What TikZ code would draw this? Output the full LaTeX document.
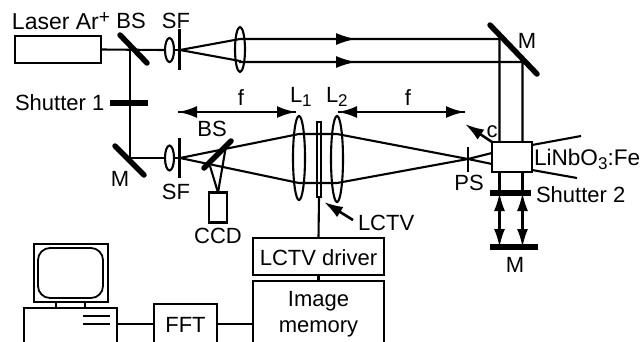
\documentclass[tikz,border=0pt]{standalone}
\usepackage{fontspec}
\setmainfont{Liberation Sans}
\usetikzlibrary{arrows.meta,shapes.geometric}
\newcommand{\lowtxt}[1]{\raisebox{-4pt}{\fontsize{17}{17}\selectfont #1}}
\newcommand{\hightxt}[1]{\raisebox{6pt}{\fontsize{19}{19}\selectfont #1}}
\tikzset{
  ray/.style={line width=2.1pt},
  bar/.style={line width=5.5pt,line cap=round},
  boxnode/.style={draw,line width=2.1pt,inner sep=0pt,outer sep=0pt},
  lens/.style={draw,ellipse,line width=2.1pt,inner sep=0pt,outer sep=0pt},
  lbl/.style={inner sep=0pt,outer sep=0pt,anchor=base,font=\fontsize{22}{26}\selectfont},
  bighead/.style={-{Latex[length=19pt,width=12pt]},line width=2.6pt},
  beamhead/.style={-{Latex[length=20pt,width=12pt]},line width=2.1pt},
  bothhead/.style={{Latex[length=18pt,width=11pt]}-{Latex[length=18pt,width=11pt]},line width=2.1pt}
}
\begin{document}
\begin{tikzpicture}[x=1pt,y=-1pt]
\clip (0,0) rectangle (642,341);
\fill[white] (0,0) rectangle (642,341);

\node[boxnode,minimum width=86pt,minimum height=27pt] (laser) at (58,49.5) {};
\node[lens,minimum width=9pt,minimum height=24pt] (lensA) at (169.5,50) {};
\node[lens,minimum width=10pt,minimum height=45pt] (lensB) at (240,49.5) {};
\node[lens,minimum width=9pt,minimum height=25pt] (lensC) at (169.5,158) {};
\node[lens,minimum width=12pt,minimum height=84pt] (lensL1) at (299,158) {};
\node[lens,minimum width=12pt,minimum height=86pt] (lensL2) at (337,159) {};
\node[boxnode,minimum width=4pt,minimum height=75pt] (lctv) at (319,159.5) {};
\node[boxnode,minimum width=40pt,minimum height=30pt] (crystal) at (512,157) {};
\node[boxnode,minimum width=18pt,minimum height=30pt] (ccd) at (218,207.5) {};
\node[boxnode,minimum width=131pt,minimum height=37pt] (driver) at (318.5,256.5) {};
\node[boxnode,minimum width=131pt,minimum height=66pt,align=center] (memory) at (318.5,314) {};
\node[boxnode,minimum width=63pt,minimum height=40pt] (fft) at (185.5,324) {};
\node[boxnode,minimum width=74pt,minimum height=58pt] (monitor) at (71,273) {};
\node[draw,rounded corners=12pt,line width=1.8pt,inner sep=0pt,minimum width=65pt,minimum height=50pt] (screen) at (70.5,273) {};
\node[boxnode,minimum width=29pt,minimum height=6pt] (stand) at (70.5,305) {};
\node[boxnode,minimum width=93pt,minimum height=40pt] (base) at (70.5,328) {};

\coordinate (bsA) at (130,50);
\coordinate (mirC) at (130,158);
\coordinate (slitA) at (180,50);
\coordinate (slitC) at (180,158);
\coordinate (lensBup) at (240,39);
\coordinate (lensBdn) at (240,61);
\coordinate (headupA) at (336,39);
\coordinate (headupB) at (356,39);
\coordinate (headdnA) at (336,62);
\coordinate (headdnB) at (356,62);
\coordinate (mirUp) at (499.5,39);
\coordinate (mirDn) at (522.5,62);
\coordinate (L1up) at (299,134);
\coordinate (L1dn) at (299,183);
\coordinate (L2up) at (337,134);
\coordinate (L2dn) at (337,183);
\coordinate (ps) at (468,159);
\coordinate (ccdUp) at (226,146);
\coordinate (ccdDn) at (210,166);
\coordinate (shutB) at (499.5,193);
\coordinate (shutC) at (522.5,193);
\coordinate (mirB) at (499.5,247);
\coordinate (mirE) at (522.5,247);

\draw[ray] (laser.east) -- (lensA.west);
\draw[ray] (lensA.east) -- (slitA);
\draw[ray] (bsA) -- (mirC);
\draw[ray] (mirC) -- (lensC.west);
\draw[ray] (lensC.east) -- (slitC);
\draw[ray] (slitA) -- (lensBup) -- (mirUp) -- (mirUp |- crystal.north);
\draw[ray] (slitA) -- (lensBdn) -- (240,62) -- (mirDn) -- (mirDn |- crystal.north);
\draw[beamhead] (headupA) -- (headupB);
\draw[beamhead] (headdnA) -- (headdnB);
\draw[ray] (slitC) -- (L1up) -- (L2up) -- (ps) -- (492,164);
\draw[ray] (slitC) -- (L1dn) -- (L2dn) -- (ps) -- (492,153);
\draw[ray] (ccdUp) -- (ccd.north);
\draw[ray] (ccdDn) -- (ccd.north);
\draw[ray] (532,145) -- (581,136);
\draw[ray] (532,170) -- (577,178);
\draw[ray] (lctv.south) -- (driver.north);
\draw[ray] (driver.south) -- (memory.north);
\draw[ray] (fft.east) -- (fft.east -| memory.west);
\draw[ray] (fft.west) -- (fft.west -| base.east);
\draw[ray] (mirUp |- crystal.south) -- (shutB);
\draw[ray] (mirDn |- crystal.south) -- (shutC);
\draw[bothhead] (shutB) -- (mirB);
\draw[bothhead] (shutC) -- (mirE);

\draw[bar] (120,35) -- (147,63);
\draw[line width=5.5pt] (110,103) -- (148,103);
\draw[bar] (115,146) -- (144,175);
\draw[bar] (231,141) -- (204,168);
\draw[bar] (490,25) -- (537,74);
\draw[line width=5.5pt] (490,193) -- (531,193);
\draw[line width=5.5pt] (490,247) -- (538,247);
\draw[ray] (179.5,29) -- (179.5,70);
\draw[ray] (179.5,138) -- (179.5,178);
\draw[line width=2.6pt] (468,147) -- (468,172);
\draw[ray] (83,316) -- (110,316);
\draw[ray] (83,324) -- (110,324);

\draw[bighead] (178,112) -- (296,112);
\draw[bighead] (296,112) -- (178,112);
\draw[bighead] (338,112) -- (465,112);
\draw[bighead] (465,112) -- (338,112);
\draw[bighead] (crystal.north west) -- (465,124);
\draw[bighead] (353,220) -- (324,202);

\node[lbl,anchor=base west,font=\fontsize{23}{26}\selectfont] (laserlabel) at (12,29) {Laser Ar\hightxt{+}};
\node[lbl] (bslabelA) at (131,28) {BS};
\node[lbl] (sflabelA) at (176,28) {SF};
\node[lbl,anchor=base west] (shutterA) at (15,110) {Shutter 1};
\node[lbl] (flabelA) at (241,105) {f};
\node[lbl] (flabelB) at (408,105) {f};
\node[lbl,anchor=base west] (L1label) at (290,102) {L\lowtxt{1}};
\node[lbl,anchor=base west] (L2label) at (326,102) {L\lowtxt{2}};
\node[lbl] (bslabelB) at (212,136) {BS};
\node[lbl] (mlabelA) at (527,48) {M};
\node[lbl] (mlabelB) at (120,186) {M};
\node[lbl] (sflabelB) at (176,199) {SF};
\node[lbl] (ccdlabel) at (218,243) {CCD};
\node[lbl] (clabel) at (492,137) {c};
\node[lbl,anchor=base west,font=\fontsize{22.6}{26}\selectfont] (crystallabel) at (534,165) {LiNbO\lowtxt{3}:Fe};
\node[lbl] (pslabel) at (469,190) {PS};
\node[lbl,anchor=base west] (shutterB) at (536,202) {Shutter 2};
\node[lbl] (mlabelC) at (515,272) {M};
\node[lbl,anchor=base west] (lctvlabel) at (358,230) {LCTV};
\node[lbl] (driverlabel) at (318.5,265) {LCTV driver};
\node[lbl] (imagelabel) at (318.5,306) {Image};
\node[lbl] (memorylabel) at (318.5,332) {memory};
\node[lbl] (fftlabel) at (185.5,332) {FFT};
\end{tikzpicture}
\end{document}
